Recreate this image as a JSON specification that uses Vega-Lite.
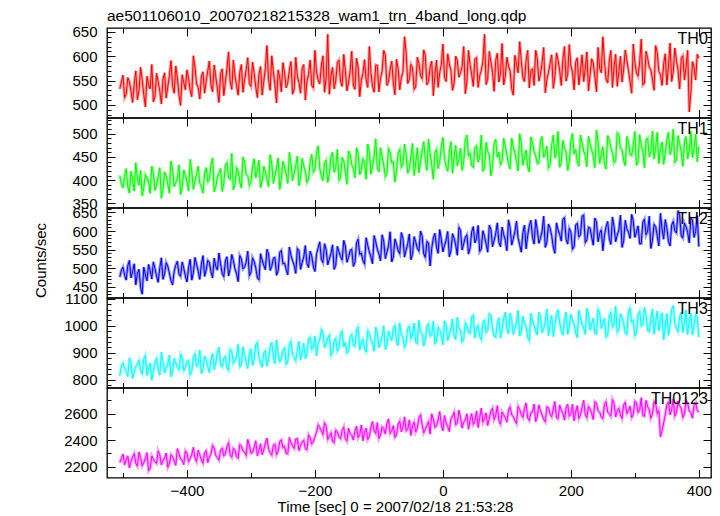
{
"$schema":"https://vega.github.io/schema/vega-lite/v6.json",
"autosize":{"type":"pad"},
"padding":{"left":33,"top":8,"right":10,"bottom":0},
"bounds":"flush",
"spacing":0,
"config":{
 "view":{"stroke":"#000","strokeWidth":1.3},
 "font":"Liberation Sans",
 "axis":{"domain":false,"grid":false,"labelFont":"Liberation Sans","labelFontSize":15,"labelColor":"#000","tickColor":"#000","tickWidth":1,"titleFont":"Liberation Sans","titleFontSize":15,"titleFontWeight":"normal","titleColor":"#000","labelFlush":false,"labelOverlap":false,"labelBound":false}
},
"title":{"text":"ae501106010_20070218215328_wam1_trn_4band_long.qdp","anchor":"start","frame":"group","fontSize":15.5,"fontWeight":"normal","font":"Liberation Sans","color":"#000","offset":0},
"data":{"values":[
{"t":-505,"TH0":533,"TH1":410,"TH2":476,"TH3":815,"TH0123":2230},
{"t":-500,"TH0":561,"TH1":383,"TH2":503,"TH3":862,"TH0123":2295},
{"t":-495,"TH0":522,"TH1":425,"TH2":468,"TH3":830,"TH0123":2248},
{"t":-490,"TH0":548,"TH1":372,"TH2":521,"TH3":881,"TH0123":2190},
{"t":-485,"TH0":505,"TH1":401,"TH2":490,"TH3":805,"TH0123":2272},
{"t":-480,"TH0":570,"TH1":438,"TH2":455,"TH3":848,"TH0123":2225},
{"t":-475,"TH0":529,"TH1":389,"TH2":497,"TH3":873,"TH0123":2310},
{"t":-470,"TH0":552,"TH1":366,"TH2":430,"TH3":822,"TH0123":2205},
{"t":-465,"TH0":496,"TH1":412,"TH2":482,"TH3":890,"TH0123":2262},
{"t":-460,"TH0":541,"TH1":395,"TH2":510,"TH3":845,"TH0123":2170},
{"t":-455,"TH0":583,"TH1":430,"TH2":471,"TH3":798,"TH0123":2280},
{"t":-450,"TH0":518,"TH1":378,"TH2":499,"TH3":866,"TH0123":2236},
{"t":-445,"TH0":547,"TH1":407,"TH2":462,"TH3":839,"TH0123":2318},
{"t":-440,"TH0":502,"TH1":361,"TH2":528,"TH3":902,"TH0123":2212},
{"t":-435,"TH0":566,"TH1":418,"TH2":485,"TH3":825,"TH0123":2265},
{"t":-430,"TH0":537,"TH1":392,"TH2":506,"TH3":857,"TH0123":2195},
{"t":-425,"TH0":591,"TH1":441,"TH2":466,"TH3":812,"TH0123":2290},
{"t":-420,"TH0":524,"TH1":386,"TH2":492,"TH3":879,"TH0123":2243},
{"t":-415,"TH0":555,"TH1":404,"TH2":519,"TH3":846,"TH0123":2335},
{"t":-410,"TH0":499,"TH1":369,"TH2":478,"TH3":895,"TH0123":2258},
{"t":-405,"TH0":546,"TH1":422,"TH2":500,"TH3":833,"TH0123":2215},
{"t":-400,"TH0":572,"TH1":398,"TH2":463,"TH3":868,"TH0123":2302},
{"t":-395,"TH0":530,"TH1":445,"TH2":524,"TH3":818,"TH0123":2260},
{"t":-390,"TH0":601,"TH1":380,"TH2":488,"TH3":884,"TH0123":2345},
{"t":-385,"TH0":543,"TH1":413,"TH2":511,"TH3":851,"TH0123":2238},
{"t":-380,"TH0":512,"TH1":394,"TH2":470,"TH3":910,"TH0123":2290},
{"t":-375,"TH0":568,"TH1":372,"TH2":534,"TH3":840,"TH0123":2225},
{"t":-370,"TH0":549,"TH1":427,"TH2":495,"TH3":873,"TH0123":2320},
{"t":-365,"TH0":590,"TH1":401,"TH2":516,"TH3":826,"TH0123":2272},
{"t":-360,"TH0":527,"TH1":448,"TH2":474,"TH3":897,"TH0123":2360},
{"t":-355,"TH0":558,"TH1":385,"TH2":505,"TH3":862,"TH0123":2285},
{"t":-350,"TH0":505,"TH1":416,"TH2":541,"TH3":920,"TH0123":2248},
{"t":-345,"TH0":574,"TH1":376,"TH2":486,"TH3":848,"TH0123":2338},
{"t":-340,"TH0":546,"TH1":432,"TH2":520,"TH3":887,"TH0123":2295},
{"t":-335,"TH0":609,"TH1":405,"TH2":479,"TH3":835,"TH0123":2380},
{"t":-330,"TH0":532,"TH1":458,"TH2":537,"TH3":905,"TH0123":2270},
{"t":-325,"TH0":561,"TH1":391,"TH2":498,"TH3":870,"TH0123":2325},
{"t":-320,"TH0":520,"TH1":421,"TH2":464,"TH3":931,"TH0123":2262},
{"t":-315,"TH0":583,"TH1":383,"TH2":525,"TH3":855,"TH0123":2355},
{"t":-310,"TH0":551,"TH1":439,"TH2":503,"TH3":893,"TH0123":2310},
{"t":-305,"TH0":597,"TH1":410,"TH2":546,"TH3":842,"TH0123":2405},
{"t":-300,"TH0":538,"TH1":397,"TH2":489,"TH3":915,"TH0123":2300},
{"t":-295,"TH0":565,"TH1":446,"TH2":518,"TH3":876,"TH0123":2345},
{"t":-290,"TH0":515,"TH1":420,"TH2":474,"TH3":938,"TH0123":2280},
{"t":-285,"TH0":579,"TH1":384,"TH2":539,"TH3":862,"TH0123":2372},
{"t":-280,"TH0":548,"TH1":430,"TH2":508,"TH3":900,"TH0123":2325},
{"t":-275,"TH0":622,"TH1":402,"TH2":551,"TH3":850,"TH0123":2415},
{"t":-270,"TH0":530,"TH1":455,"TH2":494,"TH3":923,"TH0123":2305},
{"t":-265,"TH0":569,"TH1":393,"TH2":527,"TH3":884,"TH0123":2360},
{"t":-260,"TH0":504,"TH1":426,"TH2":481,"TH3":948,"TH0123":2290},
{"t":-255,"TH0":556,"TH1":380,"TH2":543,"TH3":868,"TH0123":2390},
{"t":-250,"TH0":587,"TH1":441,"TH2":512,"TH3":910,"TH0123":2342},
{"t":-245,"TH0":535,"TH1":414,"TH2":497,"TH3":857,"TH0123":2300},
{"t":-240,"TH0":571,"TH1":460,"TH2":557,"TH3":931,"TH0123":2420},
{"t":-235,"TH0":522,"TH1":399,"TH2":520,"TH3":893,"TH0123":2355},
{"t":-230,"TH0":598,"TH1":432,"TH2":486,"TH3":870,"TH0123":2408},
{"t":-225,"TH0":546,"TH1":388,"TH2":548,"TH3":942,"TH0123":2320},
{"t":-220,"TH0":575,"TH1":447,"TH2":515,"TH3":903,"TH0123":2385},
{"t":-215,"TH0":510,"TH1":419,"TH2":561,"TH3":878,"TH0123":2335},
{"t":-210,"TH0":563,"TH1":403,"TH2":502,"TH3":951,"TH0123":2440},
{"t":-205,"TH0":540,"TH1":456,"TH2":533,"TH3":912,"TH0123":2370},
{"t":-200,"TH0":612,"TH1":422,"TH2":491,"TH3":962,"TH0123":2425},
{"t":-195,"TH0":551,"TH1":474,"TH2":555,"TH3":935,"TH0123":2515},
{"t":-190,"TH0":580,"TH1":409,"TH2":524,"TH3":986,"TH0123":2470},
{"t":-185,"TH0":526,"TH1":437,"TH2":566,"TH3":918,"TH0123":2530},
{"t":-180,"TH0":645,"TH1":395,"TH2":509,"TH3":955,"TH0123":2405},
{"t":-175,"TH0":559,"TH1":450,"TH2":540,"TH3":889,"TH0123":2455},
{"t":-170,"TH0":533,"TH1":417,"TH2":497,"TH3":944,"TH0123":2380},
{"t":-165,"TH0":587,"TH1":466,"TH2":559,"TH3":906,"TH0123":2462},
{"t":-160,"TH0":548,"TH1":405,"TH2":531,"TH3":971,"TH0123":2410},
{"t":-155,"TH0":604,"TH1":441,"TH2":575,"TH3":922,"TH0123":2498},
{"t":-150,"TH0":529,"TH1":391,"TH2":516,"TH3":898,"TH0123":2392},
{"t":-145,"TH0":570,"TH1":455,"TH2":548,"TH3":960,"TH0123":2448},
{"t":-140,"TH0":541,"TH1":425,"TH2":505,"TH3":927,"TH0123":2400},
{"t":-135,"TH0":596,"TH1":470,"TH2":568,"TH3":985,"TH0123":2505},
{"t":-130,"TH0":517,"TH1":412,"TH2":537,"TH3":910,"TH0123":2440},
{"t":-125,"TH0":565,"TH1":446,"TH2":520,"TH3":950,"TH0123":2395},
{"t":-120,"TH0":552,"TH1":402,"TH2":582,"TH3":903,"TH0123":2490},
{"t":-115,"TH0":620,"TH1":461,"TH2":544,"TH3":972,"TH0123":2428},
{"t":-110,"TH0":538,"TH1":430,"TH2":512,"TH3":936,"TH0123":2540},
{"t":-105,"TH0":582,"TH1":489,"TH2":571,"TH3":995,"TH0123":2450},
{"t":-100,"TH0":527,"TH1":418,"TH2":538,"TH3":918,"TH0123":2412},
{"t":-95,"TH0":569,"TH1":451,"TH2":590,"TH3":960,"TH0123":2500},
{"t":-90,"TH0":603,"TH1":407,"TH2":526,"TH3":912,"TH0123":2445},
{"t":-85,"TH0":548,"TH1":468,"TH2":561,"TH3":981,"TH0123":2560},
{"t":-80,"TH0":590,"TH1":437,"TH2":517,"TH3":945,"TH0123":2470},
{"t":-75,"TH0":521,"TH1":396,"TH2":579,"TH3":1002,"TH0123":2420},
{"t":-70,"TH0":575,"TH1":459,"TH2":547,"TH3":926,"TH0123":2520},
{"t":-65,"TH0":556,"TH1":428,"TH2":596,"TH3":968,"TH0123":2462},
{"t":-60,"TH0":640,"TH1":478,"TH2":530,"TH3":920,"TH0123":2575},
{"t":-55,"TH0":544,"TH1":415,"TH2":566,"TH3":990,"TH0123":2480},
{"t":-50,"TH0":583,"TH1":452,"TH2":523,"TH3":952,"TH0123":2435},
{"t":-45,"TH0":532,"TH1":410,"TH2":585,"TH3":1010,"TH0123":2535},
{"t":-40,"TH0":598,"TH1":470,"TH2":553,"TH3":934,"TH0123":2490},
{"t":-35,"TH0":560,"TH1":438,"TH2":600,"TH3":977,"TH0123":2590},
{"t":-30,"TH0":613,"TH1":483,"TH2":539,"TH3":925,"TH0123":2455},
{"t":-25,"TH0":541,"TH1":421,"TH2":572,"TH3":998,"TH0123":2512},
{"t":-20,"TH0":578,"TH1":458,"TH2":506,"TH3":961,"TH0123":2445},
{"t":-15,"TH0":519,"TH1":402,"TH2":581,"TH3":1017,"TH0123":2560},
{"t":-10,"TH0":592,"TH1":466,"TH2":557,"TH3":942,"TH0123":2505},
{"t":-5,"TH0":566,"TH1":441,"TH2":604,"TH3":986,"TH0123":2615},
{"t":0,"TH0":625,"TH1":492,"TH2":544,"TH3":930,"TH0123":2470},
{"t":5,"TH0":548,"TH1":430,"TH2":576,"TH3":1005,"TH0123":2530},
{"t":10,"TH0":585,"TH1":460,"TH2":531,"TH3":968,"TH0123":2465},
{"t":15,"TH0":530,"TH1":415,"TH2":593,"TH3":1025,"TH0123":2580},
{"t":20,"TH0":600,"TH1":475,"TH2":562,"TH3":949,"TH0123":2515},
{"t":25,"TH0":557,"TH1":447,"TH2":610,"TH3":993,"TH0123":2625},
{"t":30,"TH0":579,"TH1":421,"TH2":549,"TH3":940,"TH0123":2490},
{"t":35,"TH0":523,"TH1":486,"TH2":583,"TH3":1012,"TH0123":2552},
{"t":40,"TH0":612,"TH1":452,"TH2":538,"TH3":975,"TH0123":2482},
{"t":45,"TH0":562,"TH1":431,"TH2":598,"TH3":1033,"TH0123":2600},
{"t":50,"TH0":594,"TH1":470,"TH2":568,"TH3":955,"TH0123":2540},
{"t":55,"TH0":536,"TH1":439,"TH2":615,"TH3":1001,"TH0123":2495},
{"t":60,"TH0":571,"TH1":497,"TH2":552,"TH3":948,"TH0123":2640},
{"t":65,"TH0":645,"TH1":426,"TH2":586,"TH3":1020,"TH0123":2562},
{"t":70,"TH0":553,"TH1":462,"TH2":543,"TH3":983,"TH0123":2510},
{"t":75,"TH0":589,"TH1":410,"TH2":605,"TH3":1040,"TH0123":2618},
{"t":80,"TH0":528,"TH1":478,"TH2":574,"TH3":962,"TH0123":2555},
{"t":85,"TH0":606,"TH1":449,"TH2":622,"TH3":1008,"TH0123":2660},
{"t":90,"TH0":565,"TH1":433,"TH2":558,"TH3":954,"TH0123":2520},
{"t":95,"TH0":541,"TH1":490,"TH2":591,"TH3":1027,"TH0123":2590},
{"t":100,"TH0":598,"TH1":455,"TH2":547,"TH3":990,"TH0123":2535},
{"t":105,"TH0":570,"TH1":424,"TH2":609,"TH3":1047,"TH0123":2650},
{"t":110,"TH0":520,"TH1":472,"TH2":579,"TH3":968,"TH0123":2578},
{"t":115,"TH0":583,"TH1":441,"TH2":627,"TH3":1014,"TH0123":2525},
{"t":120,"TH0":630,"TH1":500,"TH2":563,"TH3":962,"TH0123":2630},
{"t":125,"TH0":556,"TH1":432,"TH2":596,"TH3":1035,"TH0123":2570},
{"t":130,"TH0":591,"TH1":465,"TH2":552,"TH3":997,"TH0123":2680},
{"t":135,"TH0":535,"TH1":418,"TH2":614,"TH3":945,"TH0123":2548},
{"t":140,"TH0":574,"TH1":481,"TH2":583,"TH3":1022,"TH0123":2612},
{"t":145,"TH0":612,"TH1":452,"TH2":631,"TH3":980,"TH0123":2540},
{"t":150,"TH0":549,"TH1":437,"TH2":567,"TH3":1050,"TH0123":2665},
{"t":155,"TH0":587,"TH1":494,"TH2":600,"TH3":975,"TH0123":2590},
{"t":160,"TH0":525,"TH1":460,"TH2":556,"TH3":1018,"TH0123":2538},
{"t":165,"TH0":567,"TH1":426,"TH2":619,"TH3":963,"TH0123":2645},
{"t":170,"TH0":603,"TH1":476,"TH2":588,"TH3":1038,"TH0123":2575},
{"t":175,"TH0":558,"TH1":448,"TH2":540,"TH3":1001,"TH0123":2690},
{"t":180,"TH0":592,"TH1":505,"TH2":603,"TH3":1060,"TH0123":2560},
{"t":185,"TH0":540,"TH1":438,"TH2":573,"TH3":982,"TH0123":2625},
{"t":190,"TH0":620,"TH1":469,"TH2":636,"TH3":1025,"TH0123":2550},
{"t":195,"TH0":563,"TH1":421,"TH2":565,"TH3":969,"TH0123":2672},
{"t":200,"TH0":581,"TH1":484,"TH2":598,"TH3":1043,"TH0123":2600},
{"t":205,"TH0":531,"TH1":456,"TH2":557,"TH3":1007,"TH0123":2545},
{"t":210,"TH0":597,"TH1":440,"TH2":621,"TH3":955,"TH0123":2660},
{"t":215,"TH0":570,"TH1":497,"TH2":590,"TH3":1030,"TH0123":2590},
{"t":220,"TH0":548,"TH1":463,"TH2":643,"TH3":992,"TH0123":2700},
{"t":225,"TH0":609,"TH1":429,"TH2":576,"TH3":1065,"TH0123":2568},
{"t":230,"TH0":562,"TH1":479,"TH2":608,"TH3":984,"TH0123":2635},
{"t":235,"TH0":586,"TH1":451,"TH2":562,"TH3":1028,"TH0123":2555},
{"t":240,"TH0":527,"TH1":508,"TH2":625,"TH3":970,"TH0123":2680},
{"t":245,"TH0":575,"TH1":436,"TH2":594,"TH3":1049,"TH0123":2612},
{"t":250,"TH0":640,"TH1":472,"TH2":547,"TH3":1010,"TH0123":2560},
{"t":255,"TH0":553,"TH1":424,"TH2":612,"TH3":958,"TH0123":2690},
{"t":260,"TH0":590,"TH1":488,"TH2":580,"TH3":1036,"TH0123":2598},
{"t":265,"TH0":536,"TH1":458,"TH2":638,"TH3":995,"TH0123":2705},
{"t":270,"TH0":604,"TH1":442,"TH2":571,"TH3":1072,"TH0123":2575},
{"t":275,"TH0":568,"TH1":499,"TH2":603,"TH3":987,"TH0123":2640},
{"t":280,"TH0":547,"TH1":466,"TH2":556,"TH3":1031,"TH0123":2562},
{"t":285,"TH0":613,"TH1":431,"TH2":629,"TH3":973,"TH0123":2685},
{"t":290,"TH0":571,"TH1":484,"TH2":597,"TH3":1052,"TH0123":2620},
{"t":295,"TH0":524,"TH1":453,"TH2":645,"TH3":1014,"TH0123":2570},
{"t":300,"TH0":588,"TH1":505,"TH2":583,"TH3":962,"TH0123":2695},
{"t":305,"TH0":559,"TH1":439,"TH2":614,"TH3":1040,"TH0123":2608},
{"t":310,"TH0":635,"TH1":475,"TH2":566,"TH3":999,"TH0123":2720},
{"t":315,"TH0":545,"TH1":427,"TH2":632,"TH3":1068,"TH0123":2580},
{"t":320,"TH0":596,"TH1":491,"TH2":600,"TH3":983,"TH0123":2652},
{"t":325,"TH0":572,"TH1":462,"TH2":553,"TH3":1026,"TH0123":2565},
{"t":330,"TH0":530,"TH1":446,"TH2":618,"TH3":969,"TH0123":2690},
{"t":335,"TH0":608,"TH1":503,"TH2":587,"TH3":1055,"TH0123":2600},
{"t":340,"TH0":563,"TH1":468,"TH2":648,"TH3":1018,"TH0123":2425},
{"t":345,"TH0":584,"TH1":434,"TH2":578,"TH3":948,"TH0123":2530},
{"t":350,"TH0":541,"TH1":488,"TH2":609,"TH3":1045,"TH0123":2665},
{"t":355,"TH0":627,"TH1":455,"TH2":560,"TH3":1002,"TH0123":2590},
{"t":360,"TH0":567,"TH1":510,"TH2":626,"TH3":1075,"TH0123":2710},
{"t":365,"TH0":592,"TH1":443,"TH2":595,"TH3":990,"TH0123":2605},
{"t":370,"TH0":533,"TH1":479,"TH2":642,"TH3":1034,"TH0123":2660},
{"t":375,"TH0":601,"TH1":430,"TH2":581,"TH3":975,"TH0123":2570},
{"t":380,"TH0":578,"TH1":494,"TH2":612,"TH3":1058,"TH0123":2700},
{"t":385,"TH0":486,"TH1":464,"TH2":568,"TH3":1020,"TH0123":2618},
{"t":390,"TH0":589,"TH1":449,"TH2":630,"TH3":966,"TH0123":2565},
{"t":395,"TH0":551,"TH1":499,"TH2":599,"TH3":1041,"TH0123":2680},
{"t":400,"TH0":596,"TH1":472,"TH2":558,"TH3":958,"TH0123":2610},
{"t":-502.5,"TH0":547,"TH1":392,"TH2":495,"TH3":851,"TH0123":2262},
{"t":-497.5,"TH0":515,"TH1":408,"TH2":481,"TH3":843,"TH0123":2214},
{"t":-492.5,"TH0":556,"TH1":386,"TH2":507,"TH3":812,"TH0123":2281},
{"t":-487.5,"TH0":528,"TH1":419,"TH2":474,"TH3":866,"TH0123":2240},
{"t":-482.5,"TH0":542,"TH1":377,"TH2":512,"TH3":829,"TH0123":2298},
{"t":-477.5,"TH0":511,"TH1":402,"TH2":486,"TH3":858,"TH0123":2203},
{"t":-472.5,"TH0":577,"TH1":421,"TH2":448,"TH3":834,"TH0123":2267},
{"t":-467.5,"TH0":521,"TH1":384,"TH2":503,"TH3":877,"TH0123":2229},
{"t":-462.5,"TH0":559,"TH1":406,"TH2":466,"TH3":816,"TH0123":2305},
{"t":-457.5,"TH0":533,"TH1":372,"TH2":494,"TH3":861,"TH0123":2188},
{"t":-452.5,"TH0":506,"TH1":416,"TH2":517,"TH3":833,"TH0123":2255},
{"t":-447.5,"TH0":565,"TH1":390,"TH2":478,"TH3":880,"TH0123":2224},
{"t":-442.5,"TH0":528,"TH1":427,"TH2":501,"TH3":817,"TH0123":2290},
{"t":-437.5,"TH0":553,"TH1":381,"TH2":470,"TH3":869,"TH0123":2247},
{"t":-432.5,"TH0":514,"TH1":409,"TH2":515,"TH3":842,"TH0123":2302},
{"t":-427.5,"TH0":560,"TH1":372,"TH2":487,"TH3":891,"TH0123":2220},
{"t":-422.5,"TH0":539,"TH1":424,"TH2":455,"TH3":829,"TH0123":2274},
{"t":-417.5,"TH0":580,"TH1":395,"TH2":508,"TH3":862,"TH0123":2209},
{"t":-412.5,"TH0":521,"TH1":433,"TH2":484,"TH3":836,"TH0123":2296},
{"t":-407.5,"TH0":562,"TH1":385,"TH2":517,"TH3":883,"TH0123":2251},
{"t":-402.5,"TH0":531,"TH1":411,"TH2":479,"TH3":844,"TH0123":2318},
{"t":-397.5,"TH0":554,"TH1":377,"TH2":502,"TH3":872,"TH0123":2236},
{"t":-392.5,"TH0":517,"TH1":419,"TH2":468,"TH3":831,"TH0123":2289},
{"t":-387.5,"TH0":578,"TH1":399,"TH2":529,"TH3":897,"TH0123":2264},
{"t":-382.5,"TH0":536,"TH1":430,"TH2":492,"TH3":856,"TH0123":2323},
{"t":-377.5,"TH0":559,"TH1":387,"TH2":510,"TH3":823,"TH0123":2249},
{"t":-372.5,"TH0":524,"TH1":414,"TH2":478,"TH3":888,"TH0123":2305},
{"t":-367.5,"TH0":570,"TH1":396,"TH2":521,"TH3":849,"TH0123":2231},
{"t":-362.5,"TH0":541,"TH1":433,"TH2":490,"TH3":874,"TH0123":2296},
{"t":-357.5,"TH0":582,"TH1":375,"TH2":527,"TH3":838,"TH0123":2340},
{"t":-352.5,"TH0":533,"TH1":406,"TH2":495,"TH3":904,"TH0123":2267},
{"t":-347.5,"TH0":564,"TH1":425,"TH2":512,"TH3":857,"TH0123":2322},
{"t":-342.5,"TH0":519,"TH1":393,"TH2":477,"TH3":879,"TH0123":2281},
{"t":-337.5,"TH0":575,"TH1":438,"TH2":531,"TH3":845,"TH0123":2352},
{"t":-332.5,"TH0":548,"TH1":402,"TH2":499,"TH3":913,"TH0123":2290},
{"t":-327.5,"TH0":592,"TH1":379,"TH2":521,"TH3":861,"TH0123":2338},
{"t":-322.5,"TH0":540,"TH1":427,"TH2":485,"TH3":889,"TH0123":2275},
{"t":-317.5,"TH0":567,"TH1":396,"TH2":534,"TH3":848,"TH0123":2367},
{"t":-312.5,"TH0":526,"TH1":450,"TH2":498,"TH3":922,"TH0123":2318},
{"t":-307.5,"TH0":572,"TH1":412,"TH2":516,"TH3":866,"TH0123":2284},
{"t":-302.5,"TH0":544,"TH1":388,"TH2":480,"TH3":897,"TH0123":2362},
{"t":-297.5,"TH0":588,"TH1":429,"TH2":528,"TH3":853,"TH0123":2306},
{"t":-292.5,"TH0":537,"TH1":405,"TH2":501,"TH3":930,"TH0123":2395},
{"t":-287.5,"TH0":563,"TH1":443,"TH2":469,"TH3":881,"TH0123":2324},
{"t":-282.5,"TH0":520,"TH1":397,"TH2":522,"TH3":847,"TH0123":2290},
{"t":-277.5,"TH0":575,"TH1":418,"TH2":496,"TH3":908,"TH0123":2378},
{"t":-272.5,"TH0":552,"TH1":386,"TH2":538,"TH3":872,"TH0123":2334},
{"t":-267.5,"TH0":601,"TH1":435,"TH2":505,"TH3":939,"TH0123":2286},
{"t":-262.5,"TH0":541,"TH1":411,"TH2":529,"TH3":860,"TH0123":2369},
{"t":-257.5,"TH0":572,"TH1":448,"TH2":493,"TH3":895,"TH0123":2315},
{"t":-252.5,"TH0":527,"TH1":403,"TH2":548,"TH3":877,"TH0123":2401},
{"t":-247.5,"TH0":566,"TH1":428,"TH2":514,"TH3":918,"TH0123":2352},
{"t":-242.5,"TH0":545,"TH1":393,"TH2":482,"TH3":866,"TH0123":2296},
{"t":-237.5,"TH0":589,"TH1":437,"TH2":535,"TH3":943,"TH0123":2383},
{"t":-232.5,"TH0":532,"TH1":415,"TH2":508,"TH3":884,"TH0123":2337},
{"t":-227.5,"TH0":560,"TH1":452,"TH2":553,"TH3":911,"TH0123":2412},
{"t":-222.5,"TH0":524,"TH1":406,"TH2":497,"TH3":873,"TH0123":2360},
{"t":-217.5,"TH0":583,"TH1":431,"TH2":530,"TH3":935,"TH0123":2399},
{"t":-212.5,"TH0":548,"TH1":395,"TH2":512,"TH3":895,"TH0123":2326},
{"t":-207.5,"TH0":592,"TH1":440,"TH2":546,"TH3":958,"TH0123":2418},
{"t":-202.5,"TH0":535,"TH1":417,"TH2":504,"TH3":920,"TH0123":2388},
{"t":-197.5,"TH0":568,"TH1":458,"TH2":539,"TH3":889,"TH0123":2460},
{"t":-192.5,"TH0":543,"TH1":426,"TH2":571,"TH3":948,"TH0123":2495},
{"t":-187.5,"TH0":601,"TH1":399,"TH2":515,"TH3":976,"TH0123":2442},
{"t":-182.5,"TH0":556,"TH1":443,"TH2":550,"TH3":932,"TH0123":2508},
{"t":-177.5,"TH0":522,"TH1":412,"TH2":524,"TH3":965,"TH0123":2430},
{"t":-172.5,"TH0":577,"TH1":460,"TH2":563,"TH3":901,"TH0123":2392},
{"t":-167.5,"TH0":549,"TH1":428,"TH2":508,"TH3":953,"TH0123":2476},
{"t":-162.5,"TH0":592,"TH1":400,"TH2":545,"TH3":917,"TH0123":2423},
{"t":-157.5,"TH0":538,"TH1":449,"TH2":522,"TH3":980,"TH0123":2470},
{"t":-152.5,"TH0":571,"TH1":418,"TH2":560,"TH3":938,"TH0123":2411},
{"t":-147.5,"TH0":545,"TH1":463,"TH2":529,"TH3":905,"TH0123":2489},
{"t":-142.5,"TH0":610,"TH1":433,"TH2":551,"TH3":968,"TH0123":2437},
{"t":-137.5,"TH0":532,"TH1":405,"TH2":515,"TH3":924,"TH0123":2465},
{"t":-132.5,"TH0":578,"TH1":457,"TH2":578,"TH3":996,"TH0123":2418},
{"t":-127.5,"TH0":550,"TH1":422,"TH2":541,"TH3":940,"TH0123":2514},
{"t":-122.5,"TH0":593,"TH1":440,"TH2":511,"TH3":914,"TH0123":2455},
{"t":-117.5,"TH0":536,"TH1":478,"TH2":562,"TH3":982,"TH0123":2404},
{"t":-112.5,"TH0":567,"TH1":413,"TH2":530,"TH3":948,"TH0123":2497},
{"t":-107.5,"TH0":526,"TH1":452,"TH2":588,"TH3":906,"TH0123":2470},
{"t":-102.5,"TH0":581,"TH1":426,"TH2":551,"TH3":975,"TH0123":2532},
{"t":-97.5,"TH0":555,"TH1":470,"TH2":520,"TH3":938,"TH0123":2438},
{"t":-92.5,"TH0":612,"TH1":433,"TH2":573,"TH3":1000,"TH0123":2488},
{"t":-87.5,"TH0":540,"TH1":415,"TH2":543,"TH3":929,"TH0123":2527},
{"t":-82.5,"TH0":573,"TH1":461,"TH2":598,"TH3":962,"TH0123":2451},
{"t":-77.5,"TH0":546,"TH1":440,"TH2":530,"TH3":990,"TH0123":2509},
{"t":-72.5,"TH0":594,"TH1":419,"TH2":565,"TH3":941,"TH0123":2438},
{"t":-67.5,"TH0":531,"TH1":466,"TH2":539,"TH3":1011,"TH0123":2544},
{"t":-62.5,"TH0":567,"TH1":434,"TH2":581,"TH3":957,"TH0123":2497},
{"t":-57.5,"TH0":608,"TH1":456,"TH2":549,"TH3":935,"TH0123":2470},
{"t":-52.5,"TH0":552,"TH1":425,"TH2":592,"TH3":998,"TH0123":2553},
{"t":-47.5,"TH0":576,"TH1":479,"TH2":537,"TH3":966,"TH0123":2508},
{"t":-42.5,"TH0":537,"TH1":437,"TH2":571,"TH3":940,"TH0123":2462},
{"t":-37.5,"TH0":585,"TH1":416,"TH2":546,"TH3":1020,"TH0123":2570},
{"t":-32.5,"TH0":554,"TH1":463,"TH2":587,"TH3":972,"TH0123":2518},
{"t":-27.5,"TH0":601,"TH1":445,"TH2":529,"TH3":948,"TH0123":2482},
{"t":-22.5,"TH0":548,"TH1":488,"TH2":568,"TH3":1007,"TH0123":2540},
{"t":-17.5,"TH0":590,"TH1":433,"TH2":553,"TH3":967,"TH0123":2598},
{"t":-12.5,"TH0":562,"TH1":459,"TH2":594,"TH3":934,"TH0123":2495},
{"t":-7.5,"TH0":536,"TH1":425,"TH2":540,"TH3":995,"TH0123":2552},
{"t":-2.5,"TH0":583,"TH1":471,"TH2":578,"TH3":962,"TH0123":2518},
{"t":2.5,"TH0":557,"TH1":447,"TH2":561,"TH3":1018,"TH0123":2585},
{"t":7.5,"TH0":605,"TH1":419,"TH2":599,"TH3":946,"TH0123":2502},
{"t":12.5,"TH0":571,"TH1":483,"TH2":546,"TH3":990,"TH0123":2560},
{"t":17.5,"TH0":544,"TH1":452,"TH2":581,"TH3":963,"TH0123":2610},
{"t":22.5,"TH0":592,"TH1":431,"TH2":535,"TH3":1031,"TH0123":2528},
{"t":27.5,"TH0":566,"TH1":469,"TH2":602,"TH3":982,"TH0123":2574},
{"t":32.5,"TH0":620,"TH1":440,"TH2":566,"TH3":950,"TH0123":2536},
{"t":37.5,"TH0":548,"TH1":497,"TH2":590,"TH3":1002,"TH0123":2598},
{"t":42.5,"TH0":583,"TH1":458,"TH2":555,"TH3":972,"TH0123":2552},
{"t":47.5,"TH0":538,"TH1":428,"TH2":612,"TH3":1040,"TH0123":2518},
{"t":52.5,"TH0":597,"TH1":474,"TH2":579,"TH3":989,"TH0123":2620},
{"t":57.5,"TH0":560,"TH1":450,"TH2":545,"TH3":961,"TH0123":2570},
{"t":62.5,"TH0":588,"TH1":419,"TH2":601,"TH3":1013,"TH0123":2534},
{"t":67.5,"TH0":542,"TH1":482,"TH2":565,"TH3":975,"TH0123":2605},
{"t":72.5,"TH0":610,"TH1":455,"TH2":616,"TH3":1044,"TH0123":2566},
{"t":77.5,"TH0":567,"TH1":430,"TH2":558,"TH3":993,"TH0123":2640},
{"t":82.5,"TH0":591,"TH1":488,"TH2":593,"TH3":958,"TH0123":2582},
{"t":87.5,"TH0":547,"TH1":461,"TH2":569,"TH3":1030,"TH0123":2545},
{"t":92.5,"TH0":626,"TH1":440,"TH2":611,"TH3":985,"TH0123":2612},
{"t":97.5,"TH0":559,"TH1":473,"TH2":575,"TH3":1051,"TH0123":2568},
{"t":102.5,"TH0":580,"TH1":436,"TH2":630,"TH3":970,"TH0123":2627},
{"t":107.5,"TH0":533,"TH1":491,"TH2":562,"TH3":1020,"TH0123":2590},
{"t":112.5,"TH0":602,"TH1":458,"TH2":599,"TH3":990,"TH0123":2548},
{"t":117.5,"TH0":566,"TH1":420,"TH2":581,"TH3":1057,"TH0123":2655},
{"t":122.5,"TH0":591,"TH1":480,"TH2":543,"TH3":978,"TH0123":2592},
{"t":127.5,"TH0":548,"TH1":451,"TH2":616,"TH3":1013,"TH0123":2640},
{"t":132.5,"TH0":612,"TH1":429,"TH2":588,"TH3":957,"TH0123":2566},
{"t":137.5,"TH0":571,"TH1":493,"TH2":629,"TH3":1046,"TH0123":2608},
{"t":142.5,"TH0":540,"TH1":461,"TH2":565,"TH3":1000,"TH0123":2672},
{"t":147.5,"TH0":596,"TH1":436,"TH2":603,"TH3":966,"TH0123":2575},
{"t":152.5,"TH0":563,"TH1":485,"TH2":580,"TH3":1035,"TH0123":2620},
{"t":157.5,"TH0":618,"TH1":449,"TH2":640,"TH3":989,"TH0123":2557},
{"t":162.5,"TH0":552,"TH1":473,"TH2":570,"TH3":1062,"TH0123":2651},
{"t":167.5,"TH0":585,"TH1":432,"TH2":608,"TH3":1004,"TH0123":2596},
{"t":172.5,"TH0":534,"TH1":497,"TH2":557,"TH3":960,"TH0123":2635},
{"t":177.5,"TH0":607,"TH1":457,"TH2":622,"TH3":1040,"TH0123":2571},
{"t":182.5,"TH0":570,"TH1":428,"TH2":591,"TH3":1012,"TH0123":2665},
{"t":187.5,"TH0":593,"TH1":486,"TH2":632,"TH3":965,"TH0123":2604},
{"t":192.5,"TH0":549,"TH1":462,"TH2":578,"TH3":1050,"TH0123":2640},
{"t":197.5,"TH0":624,"TH1":440,"TH2":607,"TH3":995,"TH0123":2580},
{"t":202.5,"TH0":567,"TH1":501,"TH2":551,"TH3":1022,"TH0123":2670},
{"t":207.5,"TH0":588,"TH1":467,"TH2":616,"TH3":975,"TH0123":2612},
{"t":212.5,"TH0":541,"TH1":430,"TH2":584,"TH3":1058,"TH0123":2562},
{"t":217.5,"TH0":603,"TH1":481,"TH2":640,"TH3":1003,"TH0123":2648},
{"t":222.5,"TH0":574,"TH1":453,"TH2":569,"TH3":968,"TH0123":2594},
{"t":227.5,"TH0":529,"TH1":494,"TH2":610,"TH3":1042,"TH0123":2655},
{"t":232.5,"TH0":595,"TH1":466,"TH2":583,"TH3":1009,"TH0123":2601},
{"t":237.5,"TH0":557,"TH1":427,"TH2":635,"TH3":972,"TH0123":2690},
{"t":242.5,"TH0":618,"TH1":485,"TH2":571,"TH3":1061,"TH0123":2620},
{"t":247.5,"TH0":566,"TH1":458,"TH2":603,"TH3":990,"TH0123":2575},
{"t":252.5,"TH0":589,"TH1":434,"TH2":588,"TH3":1027,"TH0123":2668},
{"t":257.5,"TH0":545,"TH1":496,"TH2":626,"TH3":964,"TH0123":2612},
{"t":262.5,"TH0":612,"TH1":470,"TH2":564,"TH3":1050,"TH0123":2580},
{"t":267.5,"TH0":579,"TH1":437,"TH2":612,"TH3":1006,"TH0123":2678},
{"t":272.5,"TH0":538,"TH1":502,"TH2":589,"TH3":976,"TH0123":2622},
{"t":277.5,"TH0":600,"TH1":468,"TH2":643,"TH3":1045,"TH0123":2590},
{"t":282.5,"TH0":573,"TH1":442,"TH2":574,"TH3":1008,"TH0123":2665},
{"t":287.5,"TH0":592,"TH1":494,"TH2":606,"TH3":968,"TH0123":2600},
{"t":292.5,"TH0":548,"TH1":455,"TH2":580,"TH3":1066,"TH0123":2656},
{"t":297.5,"TH0":625,"TH1":476,"TH2":628,"TH3":1020,"TH0123":2592},
{"t":302.5,"TH0":566,"TH1":432,"TH2":597,"TH3":975,"TH0123":2680},
{"t":307.5,"TH0":588,"TH1":498,"TH2":566,"TH3":1054,"TH0123":2625},
{"t":312.5,"TH0":541,"TH1":462,"TH2":624,"TH3":1003,"TH0123":2585},
{"t":317.5,"TH0":610,"TH1":487,"TH2":590,"TH3":1038,"TH0123":2700},
{"t":322.5,"TH0":577,"TH1":450,"TH2":640,"TH3":978,"TH0123":2630},
{"t":327.5,"TH0":553,"TH1":506,"TH2":575,"TH3":1062,"TH0123":2595},
{"t":332.5,"TH0":622,"TH1":470,"TH2":612,"TH3":1015,"TH0123":2675},
{"t":337.5,"TH0":568,"TH1":436,"TH2":560,"TH3":982,"TH0123":2622},
{"t":342.5,"TH0":540,"TH1":482,"TH2":605,"TH3":1048,"TH0123":2470},
{"t":347.5,"TH0":605,"TH1":458,"TH2":631,"TH3":1000,"TH0123":2590},
{"t":352.5,"TH0":579,"TH1":503,"TH2":572,"TH3":965,"TH0123":2688},
{"t":357.5,"TH0":548,"TH1":467,"TH2":616,"TH3":1060,"TH0123":2630},
{"t":362.5,"TH0":617,"TH1":438,"TH2":600,"TH3":1009,"TH0123":2580},
{"t":367.5,"TH0":571,"TH1":496,"TH2":655,"TH3":978,"TH0123":2695},
{"t":372.5,"TH0":596,"TH1":461,"TH2":587,"TH3":1050,"TH0123":2640},
{"t":377.5,"TH0":551,"TH1":484,"TH2":621,"TH3":1012,"TH0123":2595},
{"t":382.5,"TH0":612,"TH1":446,"TH2":596,"TH3":968,"TH0123":2678},
{"t":387.5,"TH0":524,"TH1":505,"TH2":634,"TH3":1046,"TH0123":2610},
{"t":392.5,"TH0":578,"TH1":468,"TH2":583,"TH3":1002,"TH0123":2660},
{"t":397.5,"TH0":604,"TH1":440,"TH2":641,"TH3":1033,"TH0123":2625}
]},
"vconcat":[
{"width":604,"height":89.6,
 "layer":[
  {"mark":{"type":"line","color":"#ff0000","strokeWidth":3,"opacity":0.4,"clip":true},
   "encoding":{
    "x":{"field":"t","type":"quantitative","scale":{"domain":[-525,419],"nice":false,"zero":false},
     "axis":{"orient":"bottom","values":[-500,-400,-300,-200,-100,0,100,200,300,400],"labels":false,"title":null,"tickSize":{"condition":{"test":"datum.value % 200 === 0","value":-8},"value":-5}}},
    "y":{"field":"TH0","type":"quantitative","scale":{"domain":[474,658],"nice":false,"zero":false},
     "axis":{"orient":"left","values":[480,490,500,510,520,530,540,550,560,570,580,590,600,610,620,630,640,650],"format":"d","labelExpr":"datum.value % 50 === 0 ? datum.label : ''","labelPadding":18,"title":null,"tickSize":{"condition":{"test":"datum.value % 50 === 0","value":-8},"value":-4}}}}},
  {"mark":{"type":"line","color":"#ff0000","strokeWidth":1,"clip":true},
   "encoding":{
    "x":{"field":"t","type":"quantitative","axis":null},
    "y":{"field":"TH0","type":"quantitative","axis":null}}},
  {"data":{"values":[{"label":"TH0"}]},
   "mark":{"type":"text","align":"right","baseline":"alphabetic","dy":15.5,"fontSize":16,"font":"Liberation Sans","color":"#000"},
   "encoding":{
    "x":{"datum":414,"type":"quantitative","scale":{"domain":[-525,419],"nice":false,"zero":false},
     "axis":{"orient":"top","values":[-500,-400,-300,-200,-100,0,100,200,300,400],"labels":false,"title":null,"tickSize":{"condition":{"test":"datum.value % 200 === 0","value":-8},"value":-5}}},
    "y":{"datum":658,"type":"quantitative","scale":{"domain":[474,658],"nice":false,"zero":false},
     "axis":{"orient":"right","values":[480,490,500,510,520,530,540,550,560,570,580,590,600,610,620,630,640,650],"labels":false,"title":null,"tickSize":{"condition":{"test":"datum.value % 50 === 0","value":-8},"value":-4}}},
    "text":{"field":"label"}}}
 ],
 "resolve":{"axis":{"x":"independent","y":"independent"}}},
{"width":604,"height":89.6,
 "layer":[
  {"mark":{"type":"line","color":"#00ff00","strokeWidth":3,"opacity":0.4,"clip":true},
   "encoding":{
    "x":{"field":"t","type":"quantitative","scale":{"domain":[-525,419],"nice":false,"zero":false},
     "axis":{"orient":"bottom","values":[-500,-400,-300,-200,-100,0,100,200,300,400],"labels":false,"title":null,"tickSize":{"condition":{"test":"datum.value % 200 === 0","value":-8},"value":-5}}},
    "y":{"field":"TH1","type":"quantitative","scale":{"domain":[341,534],"nice":false,"zero":false},
     "axis":{"orient":"left","values":[350,360,370,380,390,400,410,420,430,440,450,460,470,480,490,500,510,520,530],"format":"d","labelExpr":"datum.value % 50 === 0 ? datum.label : ''","labelPadding":18,"title":null,"tickSize":{"condition":{"test":"datum.value % 50 === 0","value":-8},"value":-4}}}}},
  {"mark":{"type":"line","color":"#00ff00","strokeWidth":1,"clip":true},
   "encoding":{
    "x":{"field":"t","type":"quantitative","axis":null},
    "y":{"field":"TH1","type":"quantitative","axis":null}}},
  {"data":{"values":[{"label":"TH1"}]},
   "mark":{"type":"text","align":"right","baseline":"alphabetic","dy":15.5,"fontSize":16,"font":"Liberation Sans","color":"#000"},
   "encoding":{
    "x":{"datum":414,"type":"quantitative","scale":{"domain":[-525,419],"nice":false,"zero":false},
     "axis":{"orient":"top","values":[-500,-400,-300,-200,-100,0,100,200,300,400],"labels":false,"title":null,"tickSize":{"condition":{"test":"datum.value % 200 === 0","value":-8},"value":-5}}},
    "y":{"datum":534,"type":"quantitative","scale":{"domain":[341,534],"nice":false,"zero":false},
     "axis":{"orient":"right","values":[350,360,370,380,390,400,410,420,430,440,450,460,470,480,490,500,510,520,530],"labels":false,"title":null,"tickSize":{"condition":{"test":"datum.value % 50 === 0","value":-8},"value":-4}}},
    "text":{"field":"label"}}}
 ],
 "resolve":{"axis":{"x":"independent","y":"independent"}}},
{"width":604,"height":89.6,
 "layer":[
  {"mark":{"type":"line","color":"#0000ff","strokeWidth":3,"opacity":0.4,"clip":true},
   "encoding":{
    "x":{"field":"t","type":"quantitative","scale":{"domain":[-525,419],"nice":false,"zero":false},
     "axis":{"orient":"bottom","values":[-500,-400,-300,-200,-100,0,100,200,300,400],"labels":false,"title":null,"tickSize":{"condition":{"test":"datum.value % 200 === 0","value":-8},"value":-5}}},
    "y":{"field":"TH2","type":"quantitative","scale":{"domain":[421,662],"nice":false,"zero":false},
     "axis":{"orient":"left","values":[430,440,450,460,470,480,490,500,510,520,530,540,550,560,570,580,590,600,610,620,630,640,650,660],"format":"d","labelExpr":"datum.value % 50 === 0 ? datum.label : ''","labelPadding":18,"title":"Counts/sec","titlePadding":23,"titleY":52,"tickSize":{"condition":{"test":"datum.value % 50 === 0","value":-8},"value":-4}}}}},
  {"mark":{"type":"line","color":"#0000ff","strokeWidth":1,"clip":true},
   "encoding":{
    "x":{"field":"t","type":"quantitative","axis":null},
    "y":{"field":"TH2","type":"quantitative","axis":null}}},
  {"data":{"values":[{"label":"TH2"}]},
   "mark":{"type":"text","align":"right","baseline":"alphabetic","dy":15.5,"fontSize":16,"font":"Liberation Sans","color":"#000"},
   "encoding":{
    "x":{"datum":414,"type":"quantitative","scale":{"domain":[-525,419],"nice":false,"zero":false},
     "axis":{"orient":"top","values":[-500,-400,-300,-200,-100,0,100,200,300,400],"labels":false,"title":null,"tickSize":{"condition":{"test":"datum.value % 200 === 0","value":-8},"value":-5}}},
    "y":{"datum":662,"type":"quantitative","scale":{"domain":[421,662],"nice":false,"zero":false},
     "axis":{"orient":"right","values":[430,440,450,460,470,480,490,500,510,520,530,540,550,560,570,580,590,600,610,620,630,640,650,660],"labels":false,"title":null,"tickSize":{"condition":{"test":"datum.value % 50 === 0","value":-8},"value":-4}}},
    "text":{"field":"label"}}}
 ],
 "resolve":{"axis":{"x":"independent","y":"independent"}}},
{"width":604,"height":89.6,
 "layer":[
  {"mark":{"type":"line","color":"#00ffff","strokeWidth":3,"opacity":0.4,"clip":true},
   "encoding":{
    "x":{"field":"t","type":"quantitative","scale":{"domain":[-525,419],"nice":false,"zero":false},
     "axis":{"orient":"bottom","values":[-500,-400,-300,-200,-100,0,100,200,300,400],"labels":false,"title":null,"tickSize":{"condition":{"test":"datum.value % 200 === 0","value":-8},"value":-5}}},
    "y":{"field":"TH3","type":"quantitative","scale":{"domain":[771,1103],"nice":false,"zero":false},
     "axis":{"orient":"left","values":[780,800,820,840,860,880,900,920,940,960,980,1000,1020,1040,1060,1080,1100],"format":"d","labelExpr":"datum.value % 100 === 0 ? datum.label : ''","labelPadding":18,"title":null,"tickSize":{"condition":{"test":"datum.value % 100 === 0","value":-8},"value":-4}}}}},
  {"mark":{"type":"line","color":"#00ffff","strokeWidth":1,"clip":true},
   "encoding":{
    "x":{"field":"t","type":"quantitative","axis":null},
    "y":{"field":"TH3","type":"quantitative","axis":null}}},
  {"data":{"values":[{"label":"TH3"}]},
   "mark":{"type":"text","align":"right","baseline":"alphabetic","dy":15.5,"fontSize":16,"font":"Liberation Sans","color":"#000"},
   "encoding":{
    "x":{"datum":414,"type":"quantitative","scale":{"domain":[-525,419],"nice":false,"zero":false},
     "axis":{"orient":"top","values":[-500,-400,-300,-200,-100,0,100,200,300,400],"labels":false,"title":null,"tickSize":{"condition":{"test":"datum.value % 200 === 0","value":-8},"value":-5}}},
    "y":{"datum":1103,"type":"quantitative","scale":{"domain":[771,1103],"nice":false,"zero":false},
     "axis":{"orient":"right","values":[780,800,820,840,860,880,900,920,940,960,980,1000,1020,1040,1060,1080,1100],"labels":false,"title":null,"tickSize":{"condition":{"test":"datum.value % 100 === 0","value":-8},"value":-4}}},
    "text":{"field":"label"}}}
 ],
 "resolve":{"axis":{"x":"independent","y":"independent"}}},
{"width":604,"height":89.6,
 "layer":[
  {"mark":{"type":"line","color":"#ff00ff","strokeWidth":3,"opacity":0.4,"clip":true},
   "encoding":{
    "x":{"field":"t","type":"quantitative","scale":{"domain":[-525,419],"nice":false,"zero":false},
     "axis":{"orient":"bottom","values":[-500,-400,-300,-200,-100,0,100,200,300,400],"labelExpr":"datum.value % 200 === 0 ? datum.label : ''","labelPadding":14,"title":"Time [sec] 0 = 2007/02/18 21:53:28","titleX":288,"titleY":34,"titleBaseline":"alphabetic","tickSize":{"condition":{"test":"datum.value % 200 === 0","value":-8},"value":-5}}},
    "y":{"field":"TH0123","type":"quantitative","scale":{"domain":[2117,2793],"nice":false,"zero":false},
     "axis":{"orient":"left","values":[2200,2300,2400,2500,2600,2700],"format":"d","labelExpr":"datum.value % 200 === 0 ? datum.label : ''","labelPadding":18,"title":null,"tickSize":{"condition":{"test":"datum.value % 200 === 0","value":-8},"value":-4}}}}},
  {"mark":{"type":"line","color":"#ff00ff","strokeWidth":1,"clip":true},
   "encoding":{
    "x":{"field":"t","type":"quantitative","axis":null},
    "y":{"field":"TH0123","type":"quantitative","axis":null}}},
  {"data":{"values":[{"label":"TH0123"}]},
   "mark":{"type":"text","align":"right","baseline":"alphabetic","dy":15.5,"fontSize":16,"font":"Liberation Sans","color":"#000"},
   "encoding":{
    "x":{"datum":414,"type":"quantitative","scale":{"domain":[-525,419],"nice":false,"zero":false},
     "axis":{"orient":"top","values":[-500,-400,-300,-200,-100,0,100,200,300,400],"labels":false,"title":null,"tickSize":{"condition":{"test":"datum.value % 200 === 0","value":-8},"value":-5}}},
    "y":{"datum":2793,"type":"quantitative","scale":{"domain":[2117,2793],"nice":false,"zero":false},
     "axis":{"orient":"right","values":[2200,2300,2400,2500,2600,2700],"labels":false,"title":null,"tickSize":{"condition":{"test":"datum.value % 200 === 0","value":-8},"value":-4}}},
    "text":{"field":"label"}}}
 ],
 "resolve":{"axis":{"x":"independent","y":"independent"}}}
]
}
